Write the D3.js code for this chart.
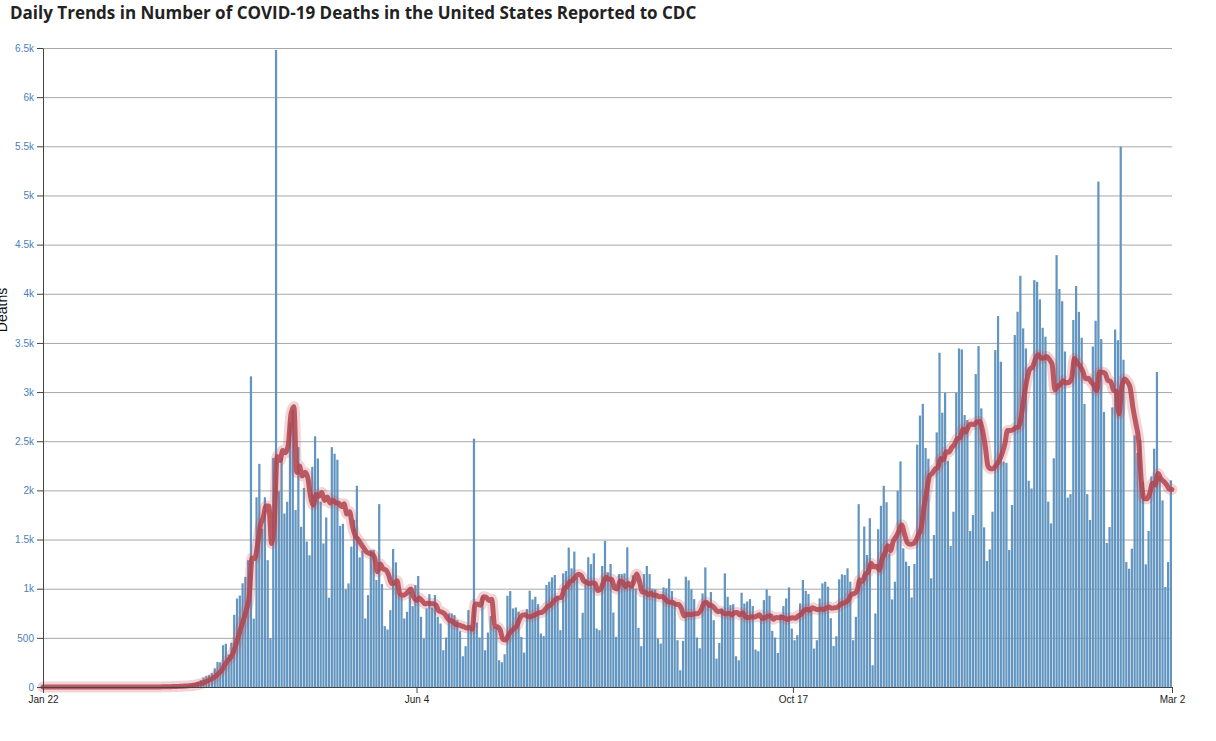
<!DOCTYPE html>
<html>
<head>
<meta charset="utf-8">
<script src="https://cdn.jsdelivr.net/npm/d3@7"></script>
<style>
  body { margin: 0; background: #fff; }
  svg { display: block; }
</style>
</head>
<body>
<div id="chart"></div>
<script>
// daily deaths reported, one list per month
const jan2020 = [0, 0, 0, 0, 0, 0, 0, 0, 0, 0]; // from Jan 22
const feb2020 = [0, 0, 0, 0, 0, 0, 0, 0, 0, 0, 0, 0, 0, 0, 0, 0, 0, 0, 0, 0, 0, 0, 0, 0, 0, 0, 0, 0, 1];
const mar2020 = [0, 1, 2, 3, 4, 2, 5, 7, 9, 8, 10, 12, 14, 20, 25, 35, 40, 55, 70, 95, 110, 120, 140, 190, 255, 250, 425, 440, 330, 450, 735];
const apr2020 = [900, 930, 1055, 1120, 1290, 3160, 695, 1930, 2270, 1610, 1930, 1290, 495, 2330, 6480, 1990, 2330, 1765, 1885, 2690, 2820, 1800, 2440, 1630, 2025, 1480, 1340, 2240, 2550, 2325];
const may2020 = [1885, 1460, 1725, 908, 2440, 2373, 2312, 1639, 1660, 993, 1054, 1428, 1700, 2047, 1319, 1387, 697, 935, 1394, 1394, 1088, 1860, 1047, 619, 585, 782, 1404, 1268, 952, 918, 697];
const jun2020 = [765, 969, 823, 1037, 1129, 714, 493, 799, 945, 809, 935, 714, 646, 374, 503, 748, 748, 731, 680, 568, 313, 415, 782, 629, 2526, 656, 503, 918, 374, 554];
const jul2020 = [721, 612, 605, 272, 252, 333, 928, 976, 799, 809, 765, 510, 350, 792, 979, 891, 918, 843, 544, 517, 1037, 1071, 1115, 1139, 925, 578, 1156, 1180, 1418, 1207, 1377];
const aug2020 = [1112, 493, 755, 1100, 1320, 1250, 1360, 595, 578, 1231, 1486, 1166, 1251, 758, 510, 1149, 1149, 1156, 1421, 1037, 1136, 1000, 602, 415, 1149, 1231, 1149, 993, 993, 493, 442];
const sep2020 = [1013, 1003, 1102, 976, 860, 476, 170, 469, 1122, 1085, 993, 894, 503, 394, 952, 1217, 867, 966, 680, 289, 449, 799, 1156, 918, 833, 843, 313, 272, 959, 850];
const oct2020 = [870, 894, 823, 381, 364, 704, 884, 993, 928, 571, 503, 347, 741, 823, 901, 1013, 595, 476, 527, 850, 1088, 979, 945, 780, 391, 476, 901, 1054, 1071, 1020, 700];
const nov2020 = [418, 517, 1095, 1146, 1139, 1207, 1071, 476, 714, 1860, 1071, 1632, 1343, 1717, 221, 748, 1605, 1843, 2047, 1880, 1360, 891, 1071, 1996, 2295, 1411, 1275, 1231, 911, 1251];
const dec2020 = [2465, 2761, 2880, 2431, 2322, 1105, 1546, 2590, 3400, 2790, 2993, 2298, 1434, 1783, 2993, 3444, 3434, 2766, 2715, 1587, 1749, 3183, 3468, 2834, 1624, 1281, 1400, 1783, 3427, 3773, 3309];
const jan2021 = [2292, 2281, 1393, 1851, 3580, 3817, 4183, 3648, 3444, 2098, 2020, 4139, 4122, 3943, 3654, 3563, 1885, 1664, 2326, 4393, 4048, 3924, 3413, 1926, 1962, 3733, 4079, 3816, 3553, 2880, 1962];
const feb2021 = [1699, 3463, 3726, 5141, 3539, 2797, 1465, 1627, 2844, 3636, 3528, 5497, 3329, 1271, 1203, 1407, 2559, 2380, 2515, 2085, 1248, 1587, 2142, 2424, 3204, 2142, 1898, 1017];
const mar2021 = [1271, 2102]; // to Mar 2

const startDay = "2020-01-22";
const xTickDates = ["2020-01-22", "2020-06-04", "2020-10-17", "2021-03-02"];
const yTicks = [0, 500, 1000, 1500, 2000, 2500, 3000, 3500, 4000, 4500, 5000, 5500, 6000, 6500];

const width = 1216, height = 741;
const margin = { left: 43, right: 1172, top: 48, bottom: 687 };

const parse = d3.timeParse("%Y-%m-%d");
const values = [].concat(jan2020, feb2020, mar2020, apr2020, may2020, jun2020, jul2020,
                         aug2020, sep2020, oct2020, nov2020, dec2020, jan2021, feb2021, mar2021);
const start = parse(startDay);
const data = values.map((v, i) => ({ date: d3.timeDay.offset(start, i), value: v }));

// 7-day trailing average, as the red line in the reference
data.forEach((d, i) => {
    const win = data.slice(Math.max(0, i - 6), i + 1);
    d.avg = d3.mean(win, w => w.value);
});

const x = d3.scaleTime()
    .domain([data[0].date, data[data.length - 1].date])
    .range([margin.left, margin.right]);

const y = d3.scaleLinear()
    .domain([0, 6500])
    .range([margin.bottom, margin.top]);

const step = (margin.right - margin.left) / (data.length - 1);
const bw = step * 0.8;

const svg = d3.select("#chart").append("svg")
    .attr("width", width)
    .attr("height", height)
    .attr("viewBox", [0, 0, width, height])
    .style("background", "#fff");

svg.append("text")
    .attr("x", 10)
    .attr("y", 19)
    .attr("font-family", "'Open Sans', sans-serif")
    .attr("font-weight", 700)
    .attr("font-size", "17px")
    .attr("fill", "#222")
    .text("Daily Trends in Number of COVID-19 Deaths in the United States Reported to CDC");

// grid
svg.append("g")
    .selectAll("line")
    .data(yTicks)
    .join("line")
    .attr("x1", margin.left)
    .attr("x2", margin.right)
    .attr("y1", d => y(d) + 0.5)
    .attr("y2", d => y(d) + 0.5)
    .attr("stroke", "#a8a8a8")
    .attr("stroke-width", 1);

// bars
svg.append("g")
    .attr("fill", "#6295bf")
    .selectAll("rect")
    .data(data)
    .join("rect")
    .attr("x", d => x(d.date) - bw)
    .attr("y", d => y(d.value))
    .attr("width", bw)
    .attr("height", d => margin.bottom - y(d.value));

const line = d3.line()
    .x(d => x(d.date))
    .y(d => y(d.avg))
    .curve(d3.curveMonotoneX);

svg.append("path")
    .datum(data)
    .attr("fill", "none")
    .attr("stroke", "#c9535d")
    .attr("stroke-opacity", 0.25)
    .attr("stroke-width", 11)
    .attr("stroke-linejoin", "round")
    .attr("stroke-linecap", "round")
    .attr("d", line);

svg.append("path")
    .datum(data)
    .attr("fill", "none")
    .attr("stroke", "#b3424c")
    .attr("stroke-opacity", 0.85)
    .attr("stroke-width", 5)
    .attr("stroke-linejoin", "round")
    .attr("stroke-linecap", "round")
    .attr("d", line);

// y axis
svg.append("g")
    .attr("transform", `translate(${margin.left},0)`)
    .call(d3.axisLeft(y).tickValues(yTicks).tickFormat(d3.format("~s")).tickSize(6).tickSizeOuter(0))
    .call(g => g.select(".domain").attr("stroke", "#444"))
    .call(g => g.selectAll(".tick line").attr("stroke", "#444"))
    .call(g => g.selectAll(".tick text")
        .attr("fill", "#4a80b8")
        .attr("font-family", "Arial, 'Liberation Sans', sans-serif")
        .attr("font-size", "10px"));

// x axis
svg.append("g")
    .attr("transform", `translate(0,${margin.bottom})`)
    .call(d3.axisBottom(x).tickValues(xTickDates.map(parse)).tickFormat(d3.timeFormat("%b %-d")).tickSize(6).tickSizeOuter(0))
    .call(g => g.select(".domain").attr("stroke", "#444"))
    .call(g => g.selectAll(".tick line").attr("stroke", "#444"))
    .call(g => g.selectAll(".tick text")
        .attr("fill", "#222")
        .attr("font-family", "Arial, 'Liberation Sans', sans-serif")
        .attr("font-size", "10px"));

svg.append("text")
    .attr("transform", "translate(7,310) rotate(-90)")
    .attr("text-anchor", "middle")
    .attr("font-family", "Arial, 'Liberation Sans', sans-serif")
    .attr("font-size", "14px")
    .attr("fill", "#111")
    .text("Deaths");
</script>
</body>
</html>
